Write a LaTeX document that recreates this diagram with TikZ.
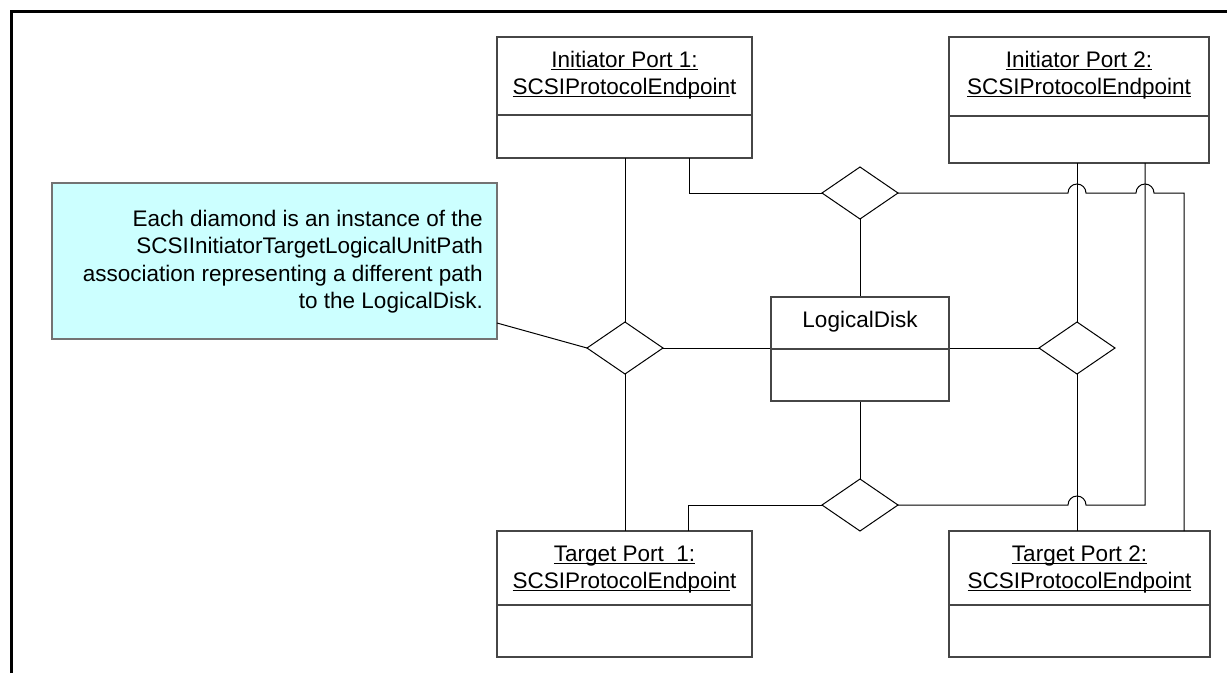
\documentclass[tikz,border=0pt]{standalone}
\usepackage{fontspec}
\setmainfont{Liberation Sans}
\usetikzlibrary{shapes.geometric}
\definecolor{notefill}{RGB}{204,255,255}
\definecolor{boxline}{RGB}{70,70,70}
\newcommand\myul[1]{\setbox0\hbox{#1}\rlap{\rule[-2.8pt]{\wd0}{1.3pt}}\box0}
\begin{document}
\begin{tikzpicture}[x=1pt,y=-1pt,
  txt/.style={font=\fontsize{22.5}{27}\selectfont, inner sep=0pt, anchor=base},
  ntxt/.style={font=\fontsize{22.5}{27}\selectfont, inner sep=0pt, anchor=base east},
  classbox/.style={draw=boxline, line width=1.2pt, fill=white, inner sep=0pt, outer sep=0pt, anchor=north west},
  divider/.style={draw=boxline, line width=1.2pt},
  assoc/.style={diamond, draw=black, line width=1pt, fill=white, inner sep=0pt, outer sep=0pt, minimum width=76pt, minimum height=52pt},
  conn/.style={draw=black, line width=1pt},
  notebox/.style={draw=black!55, line width=1.5pt, fill=notefill, inner sep=0pt, outer sep=0pt, anchor=north west}]
\useasboundingbox (0,0) rectangle (1227,673);
% page frame
\draw[line width=3pt] (11,673) -- (11,11) -- (1227,11);

% helper coordinates
\coordinate (k1) at (689,193);
\coordinate (k2) at (1184,193);
\coordinate (h1) at (1077,193);
\coordinate (h2) at (1145,193);
\coordinate (k3) at (1145,505);
\coordinate (h3) at (1077,505);
\coordinate (k4) at (688,505);

% diamonds
\node[assoc] (d1) at (625,348) {};
\node[assoc] (d2) at (860,193) {};
\node[assoc] (d3) at (1077,348) {};
\node[assoc] (d4) at (860,505) {};

% connectors
\draw[conn] (d1.east) -- (d3.west);
\draw[conn] (d2.south) -- (860,297) coordinate (ldtop);
\draw[conn] (860,401) coordinate (ldbot) -- (d4.north);

% class boxes
\node[classbox, minimum width=255pt, minimum height=121pt] (ip1) at (497,37) {};
\draw[divider] (497,115) -- (752,115);
\node[txt] (ip1a) at (624.5,67) {\myul{Initiator Port 1:}};
\node[txt] (ip1b) at (624.5,94) {\myul{SCSIProtocolEndpoin}t};

\node[classbox, minimum width=260pt, minimum height=126pt] (ip2) at (949,37) {};
\draw[divider] (949,116) -- (1209,116);
\node[txt] (ip2a) at (1079,67) {\myul{Initiator Port 2:}};
\node[txt] (ip2b) at (1079,94) {\myul{SCSIProtocolEndpoint}};

\node[classbox, minimum width=178pt, minimum height=104pt] (ld) at (771,297) {};
\draw[divider] (771,349) -- (949,349);
\node[txt] (lda) at (860,327) {LogicalDisk};

\node[classbox, minimum width=255pt, minimum height=126pt] (tp1) at (497,531) {};
\draw[divider] (497,605) -- (752,605);
\node[txt] (tp1a) at (624.5,561) {\myul{Target Port\ \ 1:}};
\node[txt] (tp1b) at (624.5,588) {\myul{SCSIProtocolEndpoin}t};

\node[classbox, minimum width=261pt, minimum height=126pt] (tp2) at (949,531) {};
\draw[divider] (949,605) -- (1210,605);
\node[txt] (tp2a) at (1079.5,561) {\myul{Target Port 2:}};
\node[txt] (tp2b) at (1079.5,588) {\myul{SCSIProtocolEndpoint}};

% connectors to ports
\draw[conn] (d1.north |- ip1.south) -- (d1.north);
\draw[conn] (d1.south) -- (d1.south |- tp1.north);
\draw[conn] (k1 |- ip1.south) -- (k1) -- (d2.west);
\draw[conn] (d2.east) -- ([xshift=-9pt]h1) arc[start angle=180, end angle=0, radius=9pt]
  -- ([xshift=-9pt]h2) arc[start angle=180, end angle=0, radius=9pt]
  -- (k2) -- (k2 |- tp2.north);
\draw[conn] (d4.west) -- (k4) -- (k4 |- tp1.north);
\draw[conn] (d4.east) -- ([xshift=-9pt]h3) arc[start angle=180, end angle=0, radius=9pt]
  -- (k3) -- (k3 |- ip2.south);
\draw[conn] (d3.north |- ip2.south) -- (d3.north);
\draw[conn] (d3.south) -- (d3.south |- tp2.north);

% note
\node[notebox, minimum width=445pt, minimum height=156pt] (note) at (52,183) {};
\node[ntxt] (n1) at (483,226) {Each diamond is an instance of the};
\node[ntxt] (n2) at (483,253.5) {SCSIInitiatorTargetLogicalUnitPath};
\node[ntxt] (n3) at (483,281) {association representing a different path};
\node[ntxt] (n4) at (483,308.5) {to the LogicalDisk.};
\draw[conn] ([yshift=16pt]note.south east) -- (d1.west);
\end{tikzpicture}
\end{document}
